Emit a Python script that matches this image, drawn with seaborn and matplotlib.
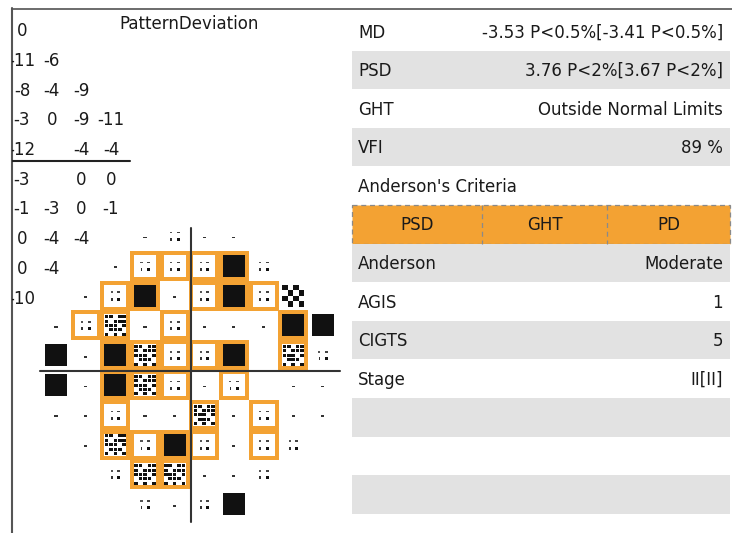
import matplotlib
matplotlib.use("Agg")
import matplotlib.pyplot as plt
from matplotlib.patches import Rectangle
import pandas as pd
import seaborn as sns

# pattern deviation numbers, only the right-hand columns are visible (grid column 6 onwards)
pd_values = [
    ["0"],
    ["-11", "-6"],
    ["-8", "-4", "-9"],
    ["-3", "0", "-9", "-11"],
    ["-12", "", "-4", "-4"],
    ["-3", "", "0", "0"],
    ["-1", "-3", "0", "-1"],
    ["0", "-4", "-4"],
    ["0", "-4"],
    ["-10"],
]

# probability plot: '-' normal, 'a' P<5%, 'c' P<2%, 'b' P<1%, 'k' P<0.5%, '.' no point
prob_map = [
    "...-a--...",
    "..-aaaka..",
    ".-ak-akac.",
    "-ab-a---kk",
    "k-kbaak.ba",
    "k-kba-a.--",
    "--a--b-a--",
    ".-baka-aa.",
    "..abb--a..",
    "...a-ak...",
]
# points flagged by the cluster criteria (orange frame)
flagged = [
    "..........",
    "...oooo...",
    "..oo.ooo..",
    ".oo.o...o.",
    "..ooooo.o.",
    "..ooo.o...",
    "..o..o.o..",
    "..oooo.o..",
    "...oo.....",
    "..........",
]

table_labels = ["MD", "PSD", "GHT", "VFI", "Anderson's Criteria", "",
                "Anderson", "AGIS", "CIGTS", "Stage", "", "", ""]
table_values = ["-3.53 P<0.5%[-3.41 P<0.5%]", "3.76 P<2%[3.67 P<2%]",
                "Outside Normal Limits", "89 %", "", "",
                "Moderate", "1", "5", "II[II]", "", "", ""]
criteria = ["PSD", "GHT", "PD"]
shaded_rows = [1, 3, 6, 8, 10, 12]
criteria_row = 5

ORANGE = "#F3A233"
GRAY = "#E2E2E2"
INK = "#1a1a1a"

sns.set_theme(style="white")
plt.rcParams["font.family"] = ["DejaVu Sans"]
FS = 12

fig = plt.figure(figsize=(7.32, 5.33), dpi=100)
ax = fig.add_axes([0, 0, 1, 1])
ax.set_xlim(0, 732)
ax.set_ylim(533, 0)
ax.axis("off")


def box(x, y, w, h, color, z=3):
    ax.add_patch(Rectangle((x - w / 2, y - h / 2), w, h, facecolor=color,
                           edgecolor="none", linewidth=0, zorder=z))


# frame lines
ax.plot([12, 732], [8.5, 8.5], color="#444444", lw=1.1, zorder=10)
ax.plot([12, 12], [8, 533], color="#555555", lw=1.5, zorder=10)

# ---- numeric pattern deviation (clipped at the left frame)
axn = fig.add_axes([12 / 732, 0, (340 - 12) / 732, 1])
axn.set_xlim(12, 340)
axn.set_ylim(533, 0)
axn.axis("off")
axn.patch.set_alpha(0)
NX0, NY0, PITCH_N = 22, 30, 29.7
for r, vals in enumerate(pd_values):
    for j, v in enumerate(vals):
        axn.text(NX0 + 29.65 * j, NY0 + PITCH_N * r + 6.3, v, ha="center",
                 va="baseline", fontsize=FS, color=INK, clip_on=True)
axn.plot([12, 130], [161, 161], color="#222222", lw=1.5)
ax.text(189, 23 + 6, "PatternDeviation", ha="center", va="baseline",
        fontsize=FS, color=INK)

# ---- probability symbol grid
X0, Y0, PX, PY = 56, 236, 29.65, 29.8
rows = []
for r, (line, fl) in enumerate(zip(prob_map, flagged)):
    for c, s in enumerate(line):
        if s != ".":
            rows.append(dict(row=r, col=c, sym=s, framed=fl[c] == "o",
                             x=X0 + PX * c, y=Y0 + PY * r))
pts = pd.DataFrame(rows)

for _, p in pts[pts.framed].iterrows():
    box(p.x, p.y, 30, 30, ORANGE, z=2)
for _, p in pts[pts.framed].iterrows():
    box(p.x, p.y, 22, 22, "white", z=2.5)

dense_mask = ["11011", "10111", "11101", "01110", "10101"]
for _, p in pts.iterrows():
    if p.sym == "-":
        box(p.x, p.y + 1.5, 3.2, 1.8, "#333333")
    elif p.sym == "a":
        box(p.x - 3.5, p.y - 3.5, 2.2, 1.6, "#555555")
        box(p.x + 3.5, p.y - 3.5, 3.0, 1.6, "#444444")
        box(p.x - 3.5, p.y + 3.5, 1.6, 3.0, "#333333")
        box(p.x + 3.5, p.y + 3.5, 3.0, 3.0, "#111111")
    elif p.sym == "b":
        for i, m in enumerate(dense_mask):
            for j, on in enumerate(m):
                if on == "1":
                    box(p.x + (j - 2) * 4.4, p.y + (i - 2) * 4.4, 3.6, 3.0, "#111111")
    elif p.sym == "c":
        for i in range(4):
            for j in range(4):
                if (i + j) % 2 == 0:
                    box(p.x + (j - 1.5) * 5.5, p.y + (i - 1.5) * 5.5, 5.5, 5.5, "#111111")

sns.scatterplot(data=pts[pts.sym == "k"], x="x", y="y", marker="s",
                s=(22 * 0.72) ** 2, color="#111111", linewidth=0, ax=ax,
                legend=False, zorder=4)
ax.set_xlim(0, 732)
ax.set_ylim(533, 0)
ax.axis("off")

ax.plot([191, 191], [228, 522], color="#333333", lw=1.5, zorder=6)
ax.plot([40, 340], [371, 371], color="#333333", lw=1.5, zorder=6)

# ---- indices table
TOP, RH, L, R = 12, 38.6, 352, 730
for i, (lab, val) in enumerate(zip(table_labels, table_values)):
    y = TOP + i * RH
    yc = y + RH / 2
    if i == criteria_row:
        ax.add_patch(Rectangle((L, y), R - L, RH, facecolor=ORANGE,
                               edgecolor="#8a8a8a", lw=0.9, ls=(0, (4, 3)), zorder=1))
        edges = [L, 482, 607, R]
        for k, name in enumerate(criteria):
            if k > 0:
                ax.plot([edges[k], edges[k]], [y, y + RH], color="#8a8a8a",
                        lw=0.9, ls=(0, (4, 3)), zorder=2)
            ax.text((edges[k] + edges[k + 1]) / 2, yc + 6.2, name, ha="center",
                    va="baseline", fontsize=FS, color=INK)
        continue
    if i in shaded_rows:
        ax.add_patch(Rectangle((L, y), R - L, RH, facecolor=GRAY,
                               edgecolor="none", zorder=1))
    if lab:
        ax.text(358, yc + 6.2, lab, ha="left", va="baseline", fontsize=FS, color=INK)
    if val:
        ax.text(723, yc + 6.2, val, ha="right", va="baseline", fontsize=FS, color=INK)

fig.savefig("out.png", dpi=100)
